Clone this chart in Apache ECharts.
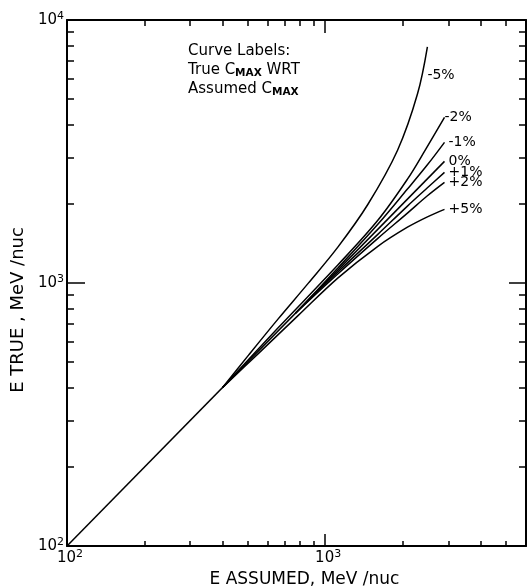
<!DOCTYPE html>
<html><head><meta charset="utf-8">
<script src="https://cdn.jsdelivr.net/npm/echarts@6/dist/echarts.min.js"></script>
<style>html,body{margin:0;padding:0;background:#fff}#c{width:528px;height:587px}</style>
</head><body><div id="c"></div>
<script>
// ---- data (E assumed, E true in MeV/nuc) ----
const curveNames = ['-5%', '-2%', '-1%', '0%', '+1%', '+2%', '+5%'];

const m5Assumed = [400, 506, 659, 861, 1122, 1463, 1908, 2280, 2490];
const m5True    = [400, 533, 732, 999, 1372, 1988, 3198, 5240, 7910];

const m2Assumed = [400, 659, 1122, 1600, 2084, 2445, 2900];
const m2True    = [400, 677, 1173, 1731, 2482, 3208, 4260];

const m1Assumed = [767, 1122, 1600, 2084, 2490, 2900];
const m1True    = [767, 1142, 1672, 2276, 2814, 3425];

const z0Assumed = [100, 2900];
const z0True    = [100, 2900];

const p1Assumed = [767, 1122, 1600, 2084, 2490, 2900];
const p1True    = [767, 1103, 1531, 1961, 2301, 2633];

const p2Assumed = [767, 1122, 1600, 2084, 2490, 2900];
const p2True    = [767, 1084, 1478, 1844, 2146, 2413];

const p5Assumed = [400, 552, 787, 1122, 1600, 2084, 2490, 2900];
const p5True    = [400, 540, 753, 1046, 1379, 1630, 1785, 1905];

// axis ticks
const xMajorTicks = [1000];
const xMinorTicks = [200, 300, 400, 500, 600, 700, 800, 900, 2000, 3000, 4000, 5000];
const xTickLabels = [100, 1000];
const yMajorTicks = [1000];
const yMinorTicks = [200, 300, 400, 500, 600, 700, 800, 900, 2000, 3000, 4000, 5000, 6000, 7000, 8000, 9000];
const yTickLabels = [100, 1000, 10000];

const X_MIN = 100, X_MAX = 6000, Y_MIN = 100, Y_MAX = 10000;

// ---- chart ----
const FONT = 'DejaVu Sans';
const zip = (a, b) => a.map((v, i) => [v, b[i]]);
const curves = [
  [m5Assumed, m5True], [m2Assumed, m2True], [m1Assumed, m1True], [z0Assumed, z0True],
  [p1Assumed, p1True], [p2Assumed, p2True], [p5Assumed, p5True]
];
const labelOffsets = {'-5%': [-4, 29], '-2%': [-4, 0]};

const powLabel = v => '{b|10}{s|' + Math.round(Math.log10(v)) + '}';
const labelRich = {
  b: {fontSize: 15, fontFamily: FONT, color: '#000', lineHeight: 18},
  s: {fontSize: 11, fontFamily: FONT, color: '#000', verticalAlign: 'top', padding: [0, 0, 8, 0]}
};

function xAx(pos, ticks, len, opts) {
  return Object.assign({
    type: 'log', logBase: 10, min: X_MIN, max: X_MAX, position: pos,
    axisLine: {show: false},
    axisTick: {show: true, inside: true, length: len, customValues: ticks, lineStyle: {color: '#000', width: 1.5}},
    axisLabel: {show: false},
    splitLine: {show: false}, minorTick: {show: false}
  }, opts || {});
}
function yAx(pos, ticks, len, opts) {
  return Object.assign({
    type: 'log', logBase: 10, min: Y_MIN, max: Y_MAX, position: pos,
    axisLine: {show: false},
    axisTick: {show: true, inside: true, length: len, customValues: ticks, lineStyle: {color: '#000', width: 1.5}},
    axisLabel: {show: false},
    splitLine: {show: false}, minorTick: {show: false}
  }, opts || {});
}

const option = {
  backgroundColor: '#fff',
  animation: false,
  grid: {left: 67, top: 20, right: 2, bottom: 41, outerBoundsMode: 'none', containLabel: false},
  xAxis: [
    xAx('bottom', xMinorTicks, 5, {
      axisLine: {show: true, lineStyle: {color: '#000', width: 2}},
      axisLabel: {show: true, customValues: xTickLabels, formatter: powLabel, rich: labelRich, margin: 3, padding: [0, 0, 0, 6]},
      name: 'E ASSUMED, MeV /nuc', nameLocation: 'middle', nameGap: 25,
      nameTextStyle: {fontFamily: FONT, fontSize: 17, color: '#000', verticalAlign: 'top', padding: [0, 0, 0, 16]}
    }),
    xAx('bottom', xMajorTicks, 12),
    xAx('top', xMinorTicks, 6, {axisLine: {show: true, lineStyle: {color: '#000', width: 2}}}),
    xAx('top', xMajorTicks, 13)
  ],
  yAxis: [
    yAx('left', yMinorTicks, 7, {
      axisLine: {show: true, lineStyle: {color: '#000', width: 2}},
      axisLabel: {show: true, customValues: yTickLabels, formatter: powLabel, rich: labelRich, margin: 3},
      name: 'E TRUE , MeV /nuc', nameLocation: 'middle', nameGap: 39,
      nameTextStyle: {fontFamily: FONT, fontSize: 18, color: '#000', padding: [0, 54, 0, 0]}
    }),
    yAx('left', yMajorTicks, 18),
    yAx('right', yMinorTicks, 7, {axisLine: {show: true, lineStyle: {color: '#000', width: 2}}}),
    yAx('right', yMajorTicks, 17)
  ],
  graphic: [{
    type: 'text', left: 188, top: 44,
    style: {
      text: '{t|Curve Labels:}\n{t|True C}{s|MAX}{t| WRT}\n{t|Assumed C}{s|MAX}',
      fill: '#000',
      rich: {
        t: {fontFamily: FONT, fontSize: 15, lineHeight: 19, fill: '#000'},
        s: {fontFamily: FONT, fontSize: 10.5, fontWeight: 'bold', lineHeight: 19, fill: '#000', padding: [6, 0, 0, 0]}
      }
    }
  }],
  series: curves.map((c, i) => ({
    name: curveNames[i],
    type: 'line',
    xAxisIndex: 0, yAxisIndex: 0,
    data: zip(c[0], c[1]),
    smooth: 0.35,
    showSymbol: false, symbol: 'none',
    lineStyle: {color: '#000', width: 1.5},
    endLabel: {
      show: true, formatter: '{a}', color: '#000', fontFamily: FONT, fontSize: 14,
      distance: 4, offset: labelOffsets[curveNames[i]] || [0, 0]
    }
  }))
};
echarts.init(document.getElementById('c'), null, {renderer: 'canvas'}).setOption(option);
</script>
</body></html>
